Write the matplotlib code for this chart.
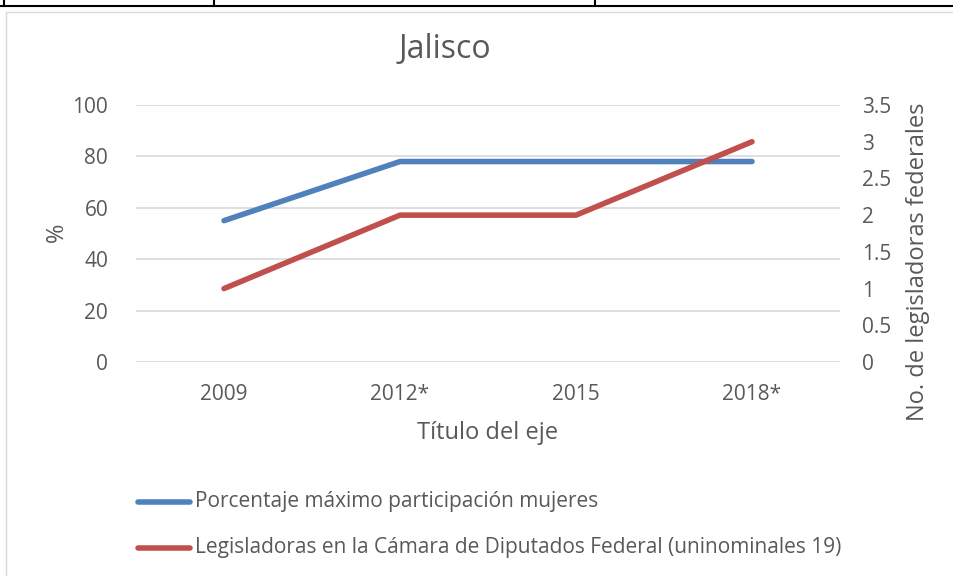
import matplotlib.pyplot as plt
from matplotlib.lines import Line2D
from matplotlib.patches import Rectangle

years = ["2009", "2012*", "2015", "2018*"]
pct_max = [55, 78, 78, 78]
legisladoras = [1, 2, 2, 3]

lbl_pct = "Porcentaje máximo participación mujeres"
lbl_leg = "Legisladoras en la Cámara de Diputados Federal (uninominales 19)"

blue = "#4f81bd"
red = "#c0504d"
grey = "#595959"

plt.rcParams['font.family'] = ['Open Sans', 'DejaVu Sans']

W, H = 954, 576
fig = plt.figure(figsize=(W / 100, H / 100), dpi=100)

# table borders above the chart
fig.add_artist(Line2D([0, 1], [1 - 6 / H, 1 - 6 / H], color="black", lw=1.5))
for xp in [4, 214, 595]:
    fig.add_artist(Line2D([xp / W, xp / W], [1 - 6 / H, 1], color="black", lw=1.5))
# chart frame
fig.add_artist(Rectangle((6 / W, -0.01), 1.0, 1 - 12 / H + 0.01, fill=False,
                         ec="#d9d9d9", lw=1))

ax = fig.add_axes([136 / W, 1 - 362 / H, 704 / W, 257 / H])
x = range(len(years))
ax.plot(x, pct_max, color=blue, lw=4, solid_capstyle="round")
ax.set_xlim(-0.5, 3.5)
ax.set_ylim(0, 100)
ax.set_yticks([0, 20, 40, 60, 80, 100])
ax.set_xticks(list(x))
ax.set_xticklabels(years)
ax.grid(axis="y", color="#d9d9d9", lw=1.2)
ax.set_axisbelow(True)
for s in ax.spines.values():
    s.set_visible(False)
ax.tick_params(length=0, labelsize=15, colors=grey, pad=20)
ax.tick_params(axis="x", pad=16)
ax.set_ylabel("%", fontsize=17, color=grey)
ax.yaxis.set_label_coords((57 - 136) / 704, (362 - 232) / 257)
ax.set_xlabel("Título del eje", fontsize=17, color=grey)
ax.xaxis.set_label_coords(0.5, (362 - 433) / 257)

ax2 = ax.twinx()
ax2.plot(x, legisladoras, color=red, lw=4, solid_capstyle="round")
ax2.set_ylim(0, 3.5)
ax2.set_yticks([0, 0.5, 1, 1.5, 2, 2.5, 3, 3.5])
ax2.set_yticklabels(["0", "0.5", "1", "1.5", "2", "2.5", "3", "3.5"])
for s in ax2.spines.values():
    s.set_visible(False)
ax2.tick_params(length=0, labelsize=15, colors=grey, pad=16)
ax2.set_ylabel("No. de legisladoras federales", fontsize=17, color=grey)
ax2.yaxis.set_label_coords((918 - 136) / 704, (362 - 262) / 257)
ax2.yaxis.label.set_va("center")
ax.yaxis.label.set_va("center")
ax.xaxis.label.set_va("center")

fig.text(445 / W, 1 - 50 / H, "Jalisco", fontsize=23, color=grey, ha="center", va="center")

# legend drawn by hand to match layout
for yy, col, lbl in [(502, blue, lbl_pct), (548, red, lbl_leg)]:
    fig.add_artist(Line2D([138 / W, 190 / W], [1 - yy / H, 1 - yy / H], color=col,
                          lw=4, solid_capstyle="round"))
    fig.text(195 / W, 1 - yy / H, lbl, fontsize=15, color=grey, ha="left", va="center")

fig.savefig("out.png", dpi=100)
